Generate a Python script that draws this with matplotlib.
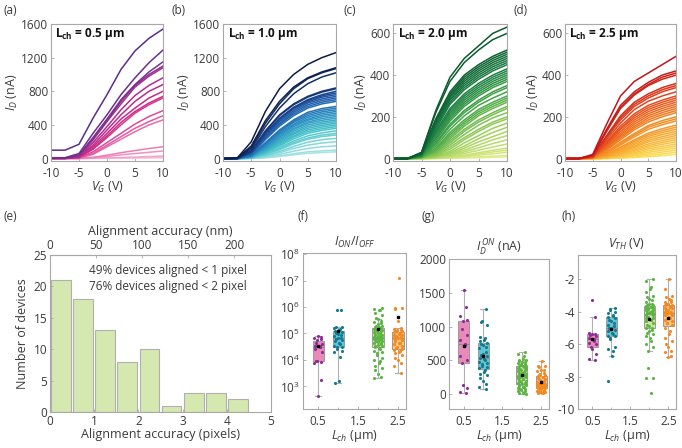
import numpy as np
import matplotlib
matplotlib.use('Agg')
import matplotlib.pyplot as plt
from matplotlib.colors import LinearSegmentedColormap
from matplotlib.ticker import FixedLocator, NullLocator

plt.rcParams['font.family'] = ['Open Sans', 'DejaVu Sans']
plt.rcParams['mathtext.fontset'] = 'custom'
plt.rcParams['mathtext.rm'] = 'Open Sans'
plt.rcParams['mathtext.it'] = 'Open Sans:italic'
plt.rcParams['mathtext.bf'] = 'Open Sans:bold'
plt.rcParams['axes.unicode_minus'] = False

# ---------------- data ----------------
vg = [-10, -7.5, -5, -2.5, 0, 2.5, 5, 7.5, 10]

id_a = [
    [100, 100, 170, 480, 760, 1060, 1280, 1430, 1540],
    [10, 10, 60, 300, 520, 760, 960, 1140, 1290],
    [5, 5, 40, 250, 470, 700, 880, 1030, 1150],
    [5, 5, 40, 240, 450, 680, 870, 1000, 1100],
    [5, 5, 30, 220, 440, 650, 850, 980, 1080],
    [3, 3, 25, 190, 380, 580, 750, 870, 960],
    [3, 3, 20, 160, 340, 520, 680, 800, 880],
    [2, 2, 15, 140, 300, 470, 600, 720, 800],
    [2, 2, 15, 120, 270, 430, 560, 660, 740],
    [2, 2, 12, 110, 250, 400, 540, 640, 720],
    [2, 2, 10, 80, 190, 300, 410, 500, 570],
    [2, 2, 8, 60, 160, 260, 360, 440, 510],
    [2, 2, 6, 50, 140, 230, 320, 400, 460],
    [1, 1, 2, 15, 40, 70, 95, 120, 140],
    [1, 1, 2, 10, 25, 45, 60, 75, 90],
    [0, 0, 1, 4, 8, 13, 18, 24, 30],
    [0, 0, 0, 2, 4, 5, 7, 8, 10],
]

id_b = [
    [0, 5, 200, 560, 830, 1000, 1120, 1200, 1260],
    [0, 3, 150, 450, 680, 850, 960, 1030, 1080],
    [0, 3, 130, 420, 650, 830, 950, 1020, 1070],
    [0, 2, 110, 380, 600, 770, 890, 970, 1020],
    [0, 2, 90, 330, 520, 650, 740, 800, 840],
    [0, 2, 85, 320, 510, 640, 730, 790, 830],
    [0, 2, 80, 300, 480, 610, 700, 760, 800],
    [0, 1, 75, 290, 470, 600, 690, 745, 780],
    [0, 1, 70, 280, 460, 590, 675, 730, 760],
    [0, 1, 65, 265, 440, 570, 660, 710, 740],
    [0, 1, 60, 250, 420, 550, 640, 690, 720],
    [0, 1, 55, 240, 405, 530, 620, 670, 700],
    [0, 1, 50, 225, 385, 510, 600, 650, 680],
    [0, 1, 40, 190, 340, 460, 550, 595, 620],
    [0, 1, 38, 180, 330, 445, 530, 575, 600],
    [0, 1, 35, 170, 315, 430, 510, 555, 580],
    [0, 1, 32, 160, 300, 410, 490, 535, 560],
    [0, 1, 30, 150, 285, 395, 470, 515, 540],
    [0, 0, 28, 140, 270, 380, 455, 495, 520],
    [0, 0, 25, 130, 255, 360, 435, 475, 500],
    [0, 0, 22, 120, 240, 345, 420, 455, 480],
    [0, 0, 20, 110, 225, 325, 400, 435, 460],
    [0, 0, 18, 100, 210, 305, 380, 415, 440],
    [0, 0, 16, 92, 195, 290, 360, 395, 420],
    [0, 0, 14, 85, 180, 270, 340, 375, 400],
    [0, 0, 12, 75, 165, 255, 320, 355, 380],
    [0, 0, 10, 68, 150, 235, 300, 335, 360],
    [0, 0, 9, 58, 130, 210, 270, 305, 330],
    [0, 0, 8, 50, 115, 190, 245, 280, 300],
    [0, 0, 6, 45, 105, 175, 230, 262, 280],
    [0, 0, 5, 35, 85, 145, 195, 225, 240],
    [0, 0, 4, 28, 70, 120, 160, 185, 200],
    [0, 0, 3, 20, 50, 88, 120, 140, 150],
    [0, 0, 2, 12, 32, 58, 80, 92, 100],
    [0, 0, 1, 8, 25, 45, 62, 72, 80],
]

id_c = [
    [0, 0, 30, 230, 390, 480, 540, 600, 630],
    [0, 0, 28, 220, 370, 460, 520, 570, 600],
    [0, 0, 25, 190, 320, 400, 450, 490, 520],
    [0, 0, 25, 185, 310, 390, 440, 480, 510],
    [0, 0, 22, 180, 300, 380, 430, 470, 500],
    [0, 0, 22, 175, 295, 370, 420, 460, 490],
    [0, 0, 20, 165, 285, 360, 410, 450, 480],
    [0, 0, 20, 160, 280, 350, 400, 440, 470],
    [0, 0, 18, 150, 270, 340, 390, 430, 460],
    [0, 0, 18, 140, 260, 330, 380, 420, 450],
    [0, 0, 16, 130, 240, 310, 360, 400, 430],
    [0, 0, 15, 125, 230, 300, 350, 390, 420],
    [0, 0, 15, 120, 220, 290, 340, 380, 410],
    [0, 0, 14, 110, 210, 280, 330, 370, 400],
    [0, 0, 12, 100, 200, 270, 320, 360, 390],
    [0, 0, 12, 95, 190, 260, 310, 350, 380],
    [0, 0, 10, 85, 180, 250, 300, 340, 370],
    [0, 0, 10, 75, 165, 230, 280, 320, 350],
    [0, 0, 9, 70, 155, 220, 270, 310, 340],
    [0, 0, 8, 60, 140, 205, 255, 290, 320],
    [0, 0, 7, 50, 125, 185, 235, 270, 300],
    [0, 0, 6, 45, 115, 175, 225, 260, 290],
    [0, 0, 5, 40, 105, 165, 215, 250, 280],
    [0, 0, 5, 35, 95, 155, 205, 240, 270],
    [0, 0, 4, 30, 85, 140, 185, 220, 250],
    [0, 0, 4, 25, 75, 130, 175, 210, 240],
    [0, 0, 3, 20, 65, 115, 160, 195, 220],
    [0, 0, 3, 15, 55, 100, 140, 175, 200],
    [0, 0, 2, 12, 45, 90, 130, 165, 190],
    [0, 0, 2, 10, 35, 75, 110, 145, 170],
    [0, 0, 1, 8, 28, 60, 95, 125, 150],
    [0, 0, 1, 6, 22, 50, 80, 105, 130],
    [0, 0, 1, 5, 18, 40, 65, 90, 110],
    [0, 0, 1, 4, 14, 32, 52, 72, 90],
    [0, 0, 0, 3, 10, 24, 40, 55, 70],
    [0, 0, 0, 2, 7, 16, 28, 40, 50],
    [0, 0, 0, 2, 5, 12, 22, 32, 40],
    [0, 0, 0, 1, 4, 9, 16, 23, 30],
    [0, 0, 0, 1, 2, 5, 8, 12, 15],
    [0, 0, 0, 0, 1, 3, 4, 6, 8],
]

id_d = [
    [0, 0, 20, 165, 300, 370, 410, 450, 490],
    [0, 0, 16, 140, 255, 320, 365, 400, 420],
    [0, 0, 15, 135, 245, 310, 355, 390, 410],
    [0, 0, 14, 130, 240, 305, 350, 380, 400],
    [0, 0, 12, 110, 205, 270, 310, 340, 360],
    [0, 0, 11, 105, 195, 260, 300, 330, 350],
    [0, 0, 10, 100, 185, 250, 290, 320, 340],
    [0, 0, 9, 90, 170, 235, 275, 300, 320],
    [0, 0, 8, 80, 155, 215, 255, 280, 300],
    [0, 0, 7, 75, 145, 205, 245, 270, 290],
    [0, 0, 7, 70, 140, 195, 235, 260, 280],
    [0, 0, 6, 65, 130, 185, 225, 250, 270],
    [0, 0, 6, 60, 120, 175, 215, 240, 260],
    [0, 0, 5, 55, 112, 165, 205, 230, 250],
    [0, 0, 5, 50, 105, 155, 195, 220, 240],
    [0, 0, 4, 45, 98, 147, 185, 210, 230],
    [0, 0, 4, 40, 90, 138, 175, 200, 220],
    [0, 0, 3, 32, 78, 120, 158, 182, 200],
    [0, 0, 3, 30, 72, 112, 150, 172, 190],
    [0, 0, 3, 26, 65, 104, 140, 162, 180],
    [0, 0, 2, 20, 55, 90, 122, 143, 160],
    [0, 0, 2, 18, 50, 84, 114, 134, 150],
    [0, 0, 2, 15, 44, 76, 106, 125, 140],
    [0, 0, 1, 12, 38, 68, 97, 115, 130],
    [0, 0, 1, 10, 33, 60, 88, 105, 120],
    [0, 0, 1, 8, 28, 54, 80, 96, 110],
    [0, 0, 1, 6, 23, 47, 70, 86, 100],
    [0, 0, 1, 5, 19, 40, 62, 77, 90],
    [0, 0, 0, 4, 15, 34, 54, 68, 80],
    [0, 0, 0, 3, 12, 28, 46, 58, 70],
    [0, 0, 0, 2, 9, 22, 38, 49, 60],
    [0, 0, 0, 2, 7, 17, 30, 40, 50],
    [0, 0, 0, 1, 5, 12, 22, 31, 40],
    [0, 0, 0, 1, 3, 8, 15, 22, 30],
    [0, 0, 0, 0, 2, 5, 9, 14, 20],
]

lch = [0.5, 1.0, 2.0, 2.5]

# histogram (e)
bin_left = [0.0, 0.5, 1.0, 1.5, 2.0, 2.5, 3.0, 3.5, 4.0]
bin_count = [21, 18, 13, 8, 10, 1, 3, 3, 2]
nm_per_pixel = 48

# Ion/Ioff (f)
ratio_05 = [80000, 75000, 70000, 60000, 55000, 45000, 40000, 35000, 33000, 30000,
            25000, 20000, 9500, 9000, 8500, 8000, 1800, 420]
ratio_10 = [800000, 780000, 180000, 170000, 160000, 150000, 130000, 120000, 110000,
            100000, 95000, 85000, 80000, 70000, 65000, 60000, 55000, 50000, 45000,
            40000, 35000, 32000, 30000, 25000, 22000, 20000, 13000, 1600, 1400]
ratio_20 = [900000, 850000, 800000, 750000, 600000, 500000, 400000, 350000, 300000,
            280000, 250000, 220000, 200000, 190000, 180000, 170000, 160000, 150000,
            140000, 130000, 125000, 120000, 110000, 105000, 100000, 95000, 90000,
            85000, 80000, 78000, 75000, 72000, 70000, 68000, 65000, 62000, 60000,
            58000, 55000, 52000, 50000, 48000, 45000, 42000, 40000, 38000, 35000,
            33000, 30000, 28000, 25000, 22000, 20000, 18000, 15000, 12000, 10000,
            9000, 8000, 6000, 5000, 4000, 3000, 2200, 2000]
ratio_25 = [13000000, 900000, 880000, 850000, 300000, 160000, 150000, 140000, 130000,
            125000, 120000, 110000, 100000, 95000, 90000, 85000, 80000, 75000, 72000,
            70000, 68000, 65000, 60000, 55000, 50000, 45000, 42000, 40000, 35000,
            30000, 28000, 25000, 23000, 22000, 20000, 18000, 15000, 12000, 10000,
            8000, 6000, 3300]

# Id on (g)
ion_05 = [1540, 1290, 1150, 1100, 1080, 960, 880, 800, 740, 720, 570, 510, 460, 140, 90, 30, 10]
ion_10 = [1260, 1080, 1070, 1020, 840, 830, 800, 780, 760, 740, 720, 700, 680, 620, 600,
          580, 560, 540, 520, 500, 480, 460, 440, 420, 400, 380, 360, 330, 300, 280,
          240, 200, 150, 100, 80]
ion_20 = [630, 600, 560, 520, 510, 500, 490, 480, 470, 460, 450, 440, 430, 420, 415,
          410, 400, 390, 380, 370, 360, 350, 340, 330, 320, 310, 300, 290, 285, 280,
          275, 270, 265, 260, 250, 240, 230, 220, 210, 200, 190, 180, 170, 160, 150,
          145, 140, 130, 120, 110, 100, 90, 80, 70, 60, 50, 40, 30, 20, 10, 5]
ion_25 = [490, 420, 410, 400, 360, 350, 340, 320, 300, 290, 280, 270, 260, 250, 240,
          230, 220, 200, 190, 180, 160, 150, 150, 145, 140, 140, 135, 130, 130, 125,
          120, 120, 115, 110, 100, 95, 90, 80, 70, 60, 50, 40, 35, 30, 25, 20, 15, 10]

# Vth (h)
vth_05 = [-3.3, -4.3, -5.3, -5.35, -5.4, -5.45, -5.5, -5.6, -5.7, -5.8, -5.9, -6.0,
          -6.2, -6.3, -6.6, -6.9, -7.0]
vth_10 = [-3.8, -3.85, -3.9, -4.0, -4.1, -4.2, -4.25, -4.3, -4.4, -4.5, -4.6, -4.7,
          -4.8, -4.9, -5.0, -5.0, -5.1, -5.2, -5.3, -5.4, -5.5, -5.5, -5.6, -5.7,
          -6.2, -6.3, -6.4, -6.7, -8.3]
vth_20 = [-2.0, -2.1, -2.5, -2.6, -2.8, -3.0, -3.1, -3.2, -3.3, -3.4, -3.5, -3.55,
          -3.6, -3.6, -3.65, -3.7, -3.7, -3.75, -3.8, -3.8, -3.85, -3.9, -3.9, -3.95,
          -4.0, -4.0, -4.05, -4.1, -4.1, -4.15, -4.2, -4.2, -4.3, -4.3, -4.4, -4.4,
          -4.5, -4.5, -4.6, -4.7, -4.8, -4.9, -5.0, -5.0, -5.1, -5.2, -5.3, -5.4,
          -5.5, -5.6, -5.8, -6.0, -6.2, -6.4, -7.5, -8.1, -8.1, -9.0]
vth_25 = [-2.0, -2.6, -3.0, -3.1, -3.2, -3.3, -3.4, -3.4, -3.5, -3.5, -3.6, -3.6,
          -3.7, -3.7, -3.8, -3.8, -3.9, -3.9, -4.0, -4.0, -4.1, -4.1, -4.15, -4.2,
          -4.2, -4.3, -4.4, -4.5, -4.6, -4.7, -4.7, -4.8, -5.0, -5.2, -5.4, -5.6,
          -5.8, -6.0, -6.2, -6.4, -6.5, -6.7, -6.8]

# ---------------- style ----------------
W, H = 682, 448
SPINE = '#a8a8a8'
TXT = '#3a3a3a'
FS = 8.5

box_face = ['#e98ab8', '#62c5d4', '#d2e5a3', '#f9c67c']
dot_col = ['#8c2d98', '#147a91', '#5cb443', '#f7881f']

fig = plt.figure(figsize=(W / 100, H / 100), dpi=100)


def add_ax(x0, y0, x1, y1):
    return fig.add_axes([x0 / W, 1 - y1 / H, (x1 - x0) / W, (y1 - y0) / H])


def style(ax):
    for s in ax.spines.values():
        s.set_color(SPINE)
        s.set_linewidth(0.8)
    ax.tick_params(direction='in', length=2.5, width=0.6, color=SPINE,
                   labelcolor=TXT, labelsize=FS, pad=2)
    ax.tick_params(axis='x', pad=4)
    ax.tick_params(which='minor', direction='in', length=1.5, width=0.5, color=SPINE)


# ---- transfer curves a-d ----
panels = [
    (id_a, (51, 24, 163, 161), ['#f6b8d7', '#ea6aab', '#cf2a86', '#a3318f', '#582d8e'],
     1600, [0, 400, 800, 1200, 1600], '0.5', '(a)', 3),
    (id_b, (223, 24, 336, 161), ['#a8e3e6', '#45c3c8', '#2a8fc3', '#1f55a5', '#0c1c48'],
     1600, [0, 400, 800, 1200, 1600], '1.0', '(b)', 172),
    (id_c, (393, 24, 507, 161), ['#e4ec8c', '#9fd05a', '#47a846', '#1d7f45', '#0b5a2e'],
     645, [0, 200, 400, 600], '2.0', '(c)', 343),
    (id_d, (565, 24, 676, 161), ['#fbe15c', '#f9b233', '#f48a22', '#e8501e', '#c2141b'],
     645, [0, 200, 400, 600], '2.5', '(d)', 514),
]

for curves, rect, stops, ymax, yt, lab, tag, tx in panels:
    ax = add_ax(*rect)
    style(ax)
    cmap = LinearSegmentedColormap.from_list('p', stops)
    n = len(curves)
    for i in reversed(range(n)):
        ax.plot(vg, curves[i], color=cmap(1 - i / (n - 1)), lw=1.1)
    ax.set_xlim(-10, 10)
    ax.set_ylim(-ymax * 0.018, ymax)
    ax.set_xticks([-10, -5, 0, 5, 10])
    ax.set_yticks(yt)
    ax.set_xlabel(r'$V_G$ (V)', fontsize=FS + 0.5, color=TXT, labelpad=0)
    ax.set_ylabel(r'$I_D$ (nA)', fontsize=FS + 0.5, color=TXT, labelpad=1)
    ax.text(0.04, 0.925, r'$\mathbf{L_{ch}}$ = ' + lab + ' µm', transform=ax.transAxes,
            fontsize=FS, fontweight='bold', color='#111111', va='center', ha='left')
    fig.text(tx / W, 1 - 11 / H, tag, fontsize=FS, color=TXT, va='center', ha='left')

# ---- histogram e ----
ax = add_ax(50, 255, 271, 412)
style(ax)
ax.tick_params(axis='x', pad=2)
ax.bar(np.array(bin_left) + 0.25, bin_count, width=0.45, color='#d5e8b0',
       edgecolor='#b0b0b0', linewidth=0.8)
ax.set_xlim(0, 5)
ax.set_ylim(0, 25)
ax.set_xticks([0, 1, 2, 3, 4, 5])
ax.set_yticks([0, 5, 10, 15, 20, 25])
ax.set_xlabel('Alignment accuracy (pixels)', fontsize=FS + 0.5, color=TXT, labelpad=0)
ax.set_ylabel('Number of devices', fontsize=FS + 0.5, color=TXT, labelpad=3)
top = ax.secondary_xaxis('top', functions=(lambda p: p * nm_per_pixel,
                                           lambda v: v / nm_per_pixel))
top.set_xticks([0, 50, 100, 150, 200])
top.tick_params(direction='in', length=2.5, width=0.6, color=SPINE,
                labelcolor=TXT, labelsize=FS, pad=2)
top.spines['top'].set_color(SPINE)
top.set_xlabel('Alignment accuracy (nm)', fontsize=FS + 0.5, color=TXT, labelpad=3)
ax.text(0.175, 0.90, '49% devices aligned < 1 pixel', transform=ax.transAxes,
        fontsize=FS, color=TXT, va='center', ha='left')
ax.text(0.175, 0.80, '76% devices aligned < 2 pixel', transform=ax.transAxes,
        fontsize=FS, color=TXT, va='center', ha='left')
fig.text(3 / W, 1 - 216 / H, '(e)', fontsize=FS, color=TXT, va='center', ha='left')


# ---- box panels f-h ----
def box_panel(rect, groups, title, tag, tagx, log=False):
    ax = add_ax(*rect)
    style(ax)
    if log:
        ax.set_yscale('log')
    bp = ax.boxplot(groups, positions=lch, widths=0.28, patch_artist=True,
                    showfliers=False, showmeans=True, whis=1.5,
                    boxprops=dict(edgecolor='#9a9a9a', linewidth=0.7),
                    whiskerprops=dict(color='#b0b0b0', linewidth=0.8),
                    capprops=dict(color='#b0b0b0', linewidth=0.8),
                    medianprops=dict(color='#8a8a8a', linewidth=0.8),
                    meanprops=dict(marker='s', markerfacecolor='k', markeredgecolor='k',
                                   markersize=1.6))
    for patch, fc in zip(bp['boxes'], box_face):
        patch.set_facecolor(fc)
    for k, vals in enumerate(groups):
        n = len(vals)
        off = 0.1 * np.sin(np.arange(n) * 2.39996 + k)
        ax.scatter(lch[k] + off, vals, s=5, color=dot_col[k], zorder=3, linewidths=0)
    for m in bp['means']:
        m.set_zorder(4)
    ax.set_xlim(0.12, 2.7)
    ax.set_xticks([0.5, 1.5, 2.5])
    ax.set_xticklabels(['0.5', '1.5', '2.5'])
    ax.xaxis.set_minor_locator(FixedLocator([1.0, 2.0]))
    ax.set_xlabel(r'$L_{ch}$ (µm)', fontsize=FS + 0.5, color=TXT, labelpad=0)
    ax.set_title(title, fontsize=FS + 0.5, color=TXT, pad=5)
    fig.text(tagx / W, 1 - 216 / H, tag, fontsize=FS, color=TXT, va='center', ha='left')
    return ax


ax = box_panel((303, 253, 406, 409), [ratio_05, ratio_10, ratio_20, ratio_25],
               r'$I_{ON}/I_{OFF}$', '(f)', 297, log=True)
ax.set_ylim(140, 1.1e8)
ax.set_yticks([1e3, 1e4, 1e5, 1e6, 1e7, 1e8])
ax.yaxis.set_minor_locator(NullLocator())

ax = box_panel((449, 259, 549, 409), [ion_05, ion_10, ion_20, ion_25],
               r'$I_D^{\,ON}$ (nA)', '(g)', 422)
ax.set_ylim(-220, 2000)
ax.set_yticks([0, 500, 1000, 1500, 2000])

ax = box_panel((578, 255, 676, 409), [vth_05, vth_10, vth_20, vth_25],
               r'$V_{TH}$ (V)', '(h)', 562)
ax.set_ylim(-10, -0.5)
ax.set_yticks([-10, -8, -6, -4, -2])

fig.savefig('out.png', dpi=100)
